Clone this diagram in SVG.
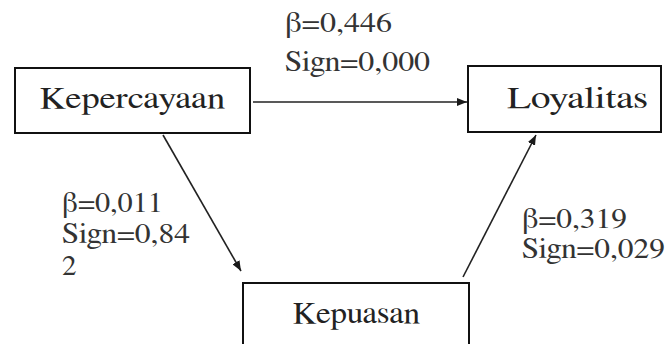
<svg xmlns="http://www.w3.org/2000/svg" width="668" height="344" viewBox="0 0 668 344">
<style>
.box{fill:#fff;stroke:#111;stroke-width:2}
.nt{font-family:'Nimbus Roman','Nimbus Roman No9 L','FreeSerif','Noto Serif','DejaVu Serif',serif;font-size:31px;fill:#222}
.lb{font-family:'Nimbus Roman','Nimbus Roman No9 L','FreeSerif','Noto Serif','DejaVu Serif',serif;font-size:29px;fill:#333}
.cn{stroke:#222;stroke-width:1.6;fill:none;marker-end:url(#ah)}
</style>
<defs>
<marker id="ah" viewBox="0 0 10 8" refX="10" refY="4" markerWidth="10" markerHeight="8" markerUnits="userSpaceOnUse" orient="auto">
<path d="M0,0 L10,4 L0,8 Z" fill="#1a1a1a"/>
</marker>
</defs>
<rect width="668" height="344" fill="#fff"/>
<g id="connectors">
<line class="cn" x1="253" y1="102" x2="467" y2="102"/>
<line class="cn" x1="163" y1="135" x2="241" y2="271"/>
<line class="cn" x1="463" y1="277" x2="536" y2="135"/>
</g>
<g id="kepercayaan">
<rect class="box" x="15" y="68" width="235" height="65"/>
<text class="nt" x="40" y="108" textLength="185" lengthAdjust="spacingAndGlyphs">Kepercayaan</text>
</g>
<g id="loyalitas">
<rect class="box" x="468" y="66" width="193" height="66"/>
<text class="nt" x="507" y="108" textLength="141" lengthAdjust="spacingAndGlyphs">Loyalitas</text>
</g>
<g id="kepuasan">
<rect class="box" x="243" y="283" width="226" height="80"/>
<text class="nt" x="293" y="323" textLength="127" lengthAdjust="spacingAndGlyphs">Kepuasan</text>
</g>
<g id="labels">
<text class="lb" x="285" y="32" textLength="107" lengthAdjust="spacingAndGlyphs">β=0,446</text>
<text class="lb" x="285" y="71" textLength="145" lengthAdjust="spacingAndGlyphs">Sign=0,000</text>
<text class="lb" x="62" y="212" textLength="101" lengthAdjust="spacingAndGlyphs">β=0,011</text>
<text class="lb" x="62" y="243" textLength="128" lengthAdjust="spacingAndGlyphs">Sign=0,84</text>
<text class="lb" x="62" y="275">2</text>
<text class="lb" x="522" y="228" textLength="105" lengthAdjust="spacingAndGlyphs">β=0,319</text>
<text class="lb" x="522" y="258" textLength="143" lengthAdjust="spacingAndGlyphs">Sign=0,029</text>
</g>
</svg>
